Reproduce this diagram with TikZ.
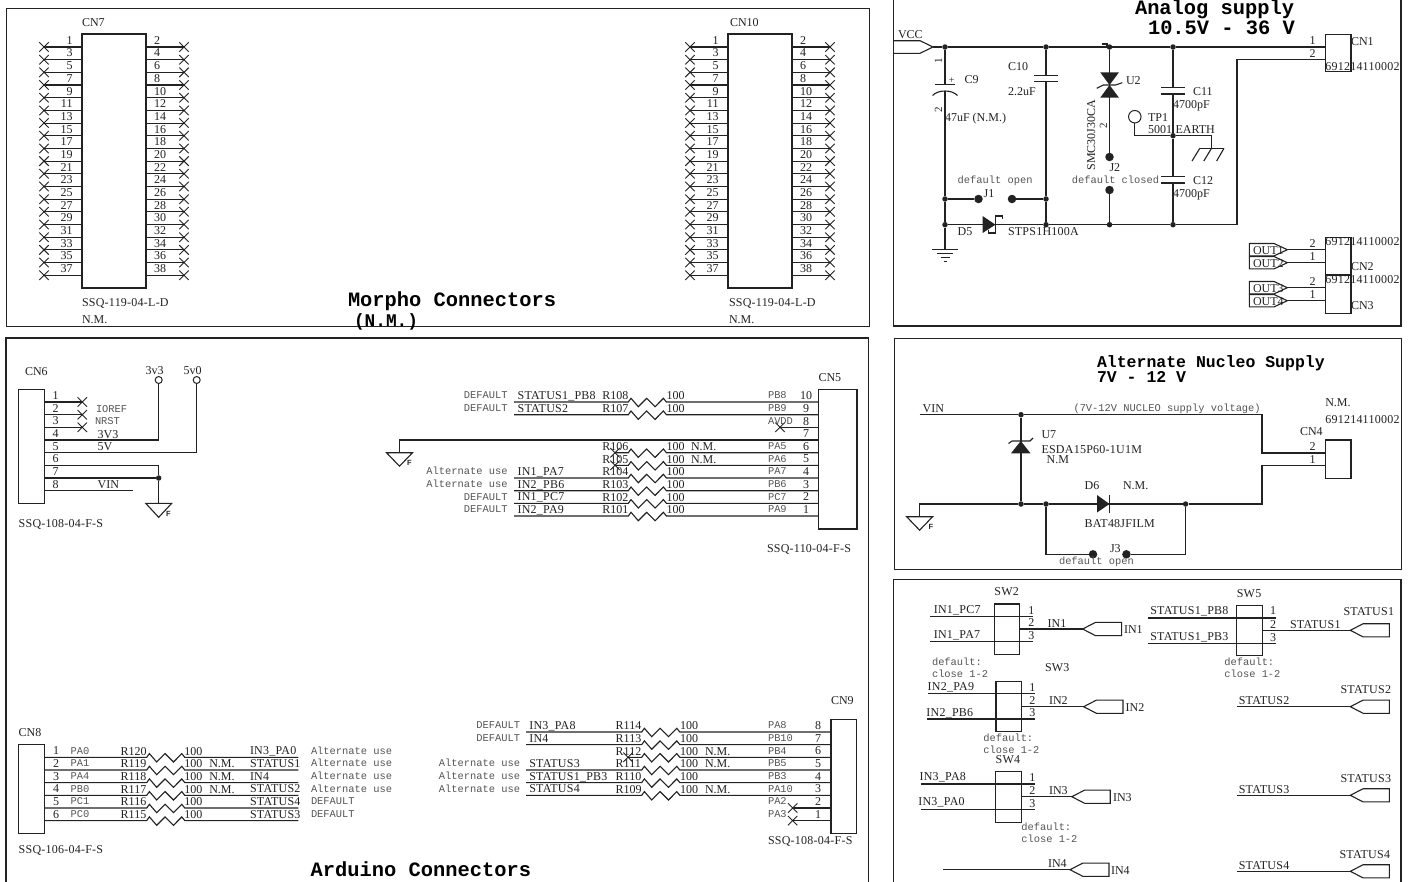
\documentclass[tikz,border=0pt]{standalone}
\usepackage{fontspec}
\setmainfont{Liberation Serif}
\setmonofont{Liberation Mono}
\setsansfont{Liberation Sans}
\newfontfamily\widefont[LetterSpace=2]{Liberation Serif}
\usetikzlibrary{shapes.misc,calc}
\definecolor{ink}{HTML}{222222}
\definecolor{monoink}{HTML}{555555}
\newcounter{tn}
\newcommand{\fsz}[1]{\fontsize{#1}{#1}\selectfont}
\tikzset{
  x=1pt,y=-1pt,
  wire/.style={draw=ink,line width=1.1pt},
  frame/.style={draw=ink,line width=1.2pt},
  txt/.style={inner sep=0pt,outer sep=0pt,text=ink,text height=8pt,text depth=0pt,font=\fsz{12}},
  wtxt/.style={txt,font=\widefont\fsz{12}},
  mono/.style={inner sep=0pt,outer sep=0pt,text=monoink,text height=6.5pt,text depth=0pt,font=\ttfamily\fsz{10.4}},
  ttl/.style={inner sep=0pt,outer sep=0pt,text=black,text height=13pt,text depth=0pt,font=\ttfamily\bfseries\fsz{20.4}},
  smallnum/.style={txt,font=\fsz{11}},
  cbox/.style={draw=ink,line width=1.2pt,inner sep=0pt,outer sep=0pt},
  dot/.style={circle,fill=ink,inner sep=0pt,minimum size=5.5pt},
  bigdot/.style={circle,fill=ink,inner sep=0pt,minimum size=8.5pt},
  ring/.style={circle,draw=ink,line width=1pt,inner sep=0pt,minimum size=7pt},
  bigring/.style={circle,draw=ink,line width=1pt,inner sep=0pt,minimum size=12.5pt},
  xm/.style={cross out,draw=ink,line width=.9pt,inner sep=0pt,minimum size=8.5pt},
  zig/.style={insert path={-- ++(2.7,-3.7) -- ++(7.3,8.4) -- ++(8.4,-8.4) -- ++(8.4,8.4) -- ++(8.3,-8.4) -- ++(3,3.7)}},
}
\newcommand{\Ls}[3]{\stepcounter{tn}\node[txt,anchor=west] (t\arabic{tn}) at (#1,#2) {#3};}
\newcommand{\Lw}[3]{\stepcounter{tn}\node[wtxt,anchor=west] (t\arabic{tn}) at (#1,#2) {#3};}
\newcommand{\Lc}[3]{\stepcounter{tn}\node[txt,anchor=center] (t\arabic{tn}) at (#1,#2) {#3};}
\newcommand{\Lm}[3]{\stepcounter{tn}\node[mono,anchor=west] (t\arabic{tn}) at (#1,#2) {#3};}
\newcommand{\Lr}[3]{\stepcounter{tn}\node[mono,anchor=east] (t\arabic{tn}) at (#1,#2) {#3};}
\newcommand{\Lt}[3]{\stepcounter{tn}\node[ttl,anchor=west] (t\arabic{tn}) at (#1,#2) {#3};}
\newcommand{\Lv}[3]{\stepcounter{tn}\node[smallnum,anchor=center,rotate=90] (t\arabic{tn}) at (#1,#2) {#3};}
% box: name x1 y1 x2 y2
\newcommand{\cbx}[5]{%
  \pgfmathsetmacro{\bw}{(#4)-(#2)}\pgfmathsetmacro{\bh}{(#5)-(#3)}%
  \node[cbox,anchor=north west,minimum width=\bw pt,minimum height=\bh pt] (#1) at (#2,#3) {};}
% port, tip on the left: name tipx y rightdx
\newcommand{\portL}[4]{%
  \coordinate (#1) at (#2,#3);
  \draw[wire] (#1) -- ++(12.8,-6.6) -- ++(#4-12.8,0) -- ++(0,13.2) -- ++(12.8-#4,0) -- cycle;}
% port, tip on the right
\newcommand{\portR}[3]{%
  \coordinate (#1) at (#2,#3);
  \draw[wire] (#1) -- ++(-13.3,-6.2) -- ++(-24.7,0) -- ++(0,12.4) -- ++(24.7,0) -- cycle;}
\newcommand{\morpho}[2]{%
  \pgfmathsetmacro{\mxa}{#2+82}\pgfmathsetmacro{\mxb}{#2+146}
  \cbx{#1}{\mxa}{34}{\mxb}{288}
  \foreach \i in {0,...,18}{
    \pgfmathsetmacro{\yy}{47+12.68*\i}
    \pgfmathtruncatemacro{\nl}{2*\i+1}
    \pgfmathtruncatemacro{\nr}{2*\i+2}
    \pgfmathsetmacro{\xl}{#2+44}
    \pgfmathsetmacro{\xr}{#2+184}
    \pgfmathsetmacro{\xln}{#2+72.5}
    \pgfmathsetmacro{\xrn}{#2+154}
    \node[xm] (#1xl\i) at (\xl,\yy) {};
    \node[xm] (#1xr\i) at (\xr,\yy) {};
    \draw[wire] (#1xl\i.center) -- (#1.west |- #1xl\i.center);
    \draw[wire] (#1xr\i.center) -- (#1.east |- #1xr\i.center);
    \stepcounter{tn}\node[txt,anchor=east] (t\arabic{tn}) at (\xln,\yy-6.7) {\nl};
    \stepcounter{tn}\node[txt,anchor=west] (t\arabic{tn}) at (\xrn,\yy-6.7) {\nr};
  }}
\begin{document}
\begin{tikzpicture}
\clip (0,0) rectangle (1418,881);
\fill[white] (0,0) rectangle (1418,881);
% frames
\node[frame,anchor=north west,inner sep=0pt,minimum width=862.7pt,minimum height=318pt] (fmorpho) at (6,8) {};
\draw[frame] (6,890) -- (6,338) -- (868.7,338) -- (868.7,890);
\draw[frame] (893.8,-5) -- (893.8,326) -- (1401,326) -- (1401,-5);
\node[frame,anchor=north west,inner sep=0pt,minimum width=507.2pt,minimum height=230.5pt] (fnucleo) at (893.8,338) {};
\draw[frame] (893.8,890) -- (893.8,579.7) -- (1401,579.7) -- (1401,890);
% ---------- Morpho
\morpho{cnseven}{0}
\morpho{cnten}{646}
\Ls{82}{22}{CN7}
\Ls{730}{22}{CN10}
\Lw{82}{302}{SSQ-119-04-L-D}
\Lw{729}{302}{SSQ-119-04-L-D}
\Ls{82}{319}{N.M.}
\Ls{729}{319}{N.M.}
\Lt{348}{300}{Morpho Connectors}
\Lt{354}{320}{\fsz{17.8}(N.M.)}
% ---------- Analog supply
\Lt{1135}{8}{Analog supply}
\Lt{1148}{28}{10.5V - 36 V}
\Ls{898}{34}{VCC}
\coordinate (vcctip) at (933,47);
\draw[wire] (894,40.7) -- (920,40.7) -- (vcctip) -- (920,53.3) -- (894,53.3);
\node[dot] (aV) at (945,47) {};
\node[dot] (aC) at (1046,47) {};
\node[dot] (aU) at (1109.5,47) {};
\node[dot] (aE) at (1173,47) {};
\node[dot] (jL) at (945,199) {};
\node[dot] (jR) at (1046,199) {};
\node[dot] (bV) at (945,224.7) {};
\node[dot] (bC) at (1046,224.7) {};
\node[dot] (bU) at (1109.5,224.7) {};
\node[dot] (bE) at (1173,224.7) {};
\node[dot] (eM) at (1173,135.7) {};
\node[bigdot] (jOneA) at (978.5,199) {};
\node[bigdot] (jOneB) at (1012,199) {};
\node[bigdot] (jTwoA) at (1109.5,157) {};
\node[bigdot] (jTwoB) at (1109.5,190) {};
\node[bigring] (tpone) at (1134.8,116.7) {};
\cbx{cnone}{1325.3}{34.3}{1351}{71.7}
\coordinate (cnonep) at (1325.3,47);
\coordinate (cnoneq) at (1325.3,59.3);
\coordinate (retx) at (1237,224.7);
\coordinate (rety) at (1237,59.3);
\draw[wire] (vcctip) -- (aV) -- (aC) -- (aU) -- (aE) -- (cnonep);
\draw[wire] (bV) -- (bC) -- (bU) -- (bE) -- (retx) -- (rety) -- (cnoneq);
% C9 and ground
\coordinate (cnt) at (945,84.7);
\coordinate (cnb) at (945,90.5);
\coordinate (gnda) at (945,249.7);
\draw[wire] (aV) -- (cnt);
\draw[wire] (cnb) -- (jL) -- (bV) -- (gnda);
\draw[wire] ([xshift=-10.5]cnt) -- ([xshift=10]cnt);
\draw[wire] (932.5,95.5) .. controls (938,89.5) and (952,89.5) .. (957.5,95.5);
\draw[wire] ([xshift=-12.7]gnda) -- ([xshift=12.7]gnda);
\draw[wire] ([xshift=-8,yshift=-4]gnda) -- ([xshift=8,yshift=-4]gnda);
\draw[wire] ([xshift=-4.5,yshift=-8]gnda) -- ([xshift=4.5,yshift=-8]gnda);
\draw[wire] ([xshift=-1.5,yshift=-12]gnda) -- ([xshift=1.5,yshift=-12]gnda);
\Lv{938}{60.7}{1}
\Lv{938}{110}{2}
\stepcounter{tn}\node[txt,font=\fsz{10},anchor=center] (t\arabic{tn}) at (951.6,79.7) {+};
\Ls{964.7}{79}{C9}
\Ls{945}{117}{47uF (N.M.)}
% C10
\coordinate (ctt) at (1046,75.3);
\coordinate (ctb) at (1046,81.7);
\draw[wire] (aC) -- (ctt);
\draw[wire] (ctb) -- (jR) -- (bC);
\draw[wire] ([xshift=-11.8]ctt) -- ([xshift=11.8]ctt);
\draw[wire] ([xshift=-11.8]ctb) -- ([xshift=11.8]ctb);
\Ls{1008}{66}{C10}
\Ls{1008}{91}{2.2uF}
% J1
\draw[wire] (jL) -- (jOneA);
\draw[wire] (jOneB) -- (jR);
\Ls{983.6}{193.3}{J1}
\Lm{957.7}{180}{default open}
% D5
\fill[ink] (982.6,216) -- (995.4,224.7) -- (982.6,233) -- cycle;
\draw[wire] (1002.8,219) -- (1002.8,216) -- (995.4,216) -- (995.4,233) -- (988.7,233) -- (988.7,230);
\Ls{957.7}{231}{D5}
\Lw{1008}{231}{STPS1H100A}
% U2
\draw[wire] (aU) -- (jTwoA);
\draw[wire] (jTwoB) -- (bU);
\fill[ink] (1100.2,72.3) -- (1119,72.3) -- (1109.5,85) -- cycle;
\fill[ink] (1100.2,97.7) -- (1119,97.7) -- (1109.5,85) -- cycle;
\draw[wire] (1096.7,88.3) -- (1103.3,85) -- (1115.7,85) -- (1122.3,82.7);
\draw[wire] (1101.7,44) -- (1107,44) -- (1107,46);
\Lv{1103}{126}{2}
\stepcounter{tn}\node[txt,anchor=center,rotate=90] (t\arabic{tn}) at (1091,135) {SMC30J30CA};
\Ls{1126}{80}{U2}
\Ls{1109.5}{167.7}{J2}
\Lm{1071.8}{180}{default closed}
% C11, C12, TP1, earth
\coordinate (cet) at (1173,87.7);
\coordinate (ceb) at (1173,94);
\coordinate (cft) at (1173,176.7);
\coordinate (cfb) at (1173,183);
\draw[wire] (aE) -- (cet);
\draw[wire] (ceb) -- (eM) -- (cft);
\draw[wire] (cfb) -- (bE);
\foreach \p in {cet,ceb,cft,cfb}{\draw[wire] ([xshift=-12]\p) -- ([xshift=12]\p);}
\Ls{1193}{91}{C11}
\Ls{1173}{104.3}{4700pF}
\Ls{1193}{180}{C12}
\Ls{1173}{193.3}{4700pF}
\Ls{1148}{117}{TP1}
\Ls{1148}{129.3}{5001}
\Ls{1175.5}{129.3}{EARTH}
\coordinate (earth) at (1211.5,148.3);
\draw[wire] (tpone) |- (eM);
\draw[wire] (eM) -| (earth);
\draw[wire] (1199.8,148.3) -- (1224,148.3);
\draw[wire] (1199.8,148.3) -- (1192,161);
\draw[wire] (1211.5,148.3) -- (1203.8,161);
\draw[wire] (1224,148.3) -- (1216.6,161);
\Ls{1351}{41}{CN1}
\Lw{1325.3}{66.3}{691214110002}
\Lc{1312.5}{40}{1}
\Lc{1312.5}{53}{2}
% CN2, CN3 and outputs
\cbx{cntwo}{1325.3}{237.3}{1351}{275}
\cbx{cnthree}{1325.3}{275}{1351}{313.3}
\portR{oa}{1287.3}{249.7}
\portR{ob}{1287.3}{262.7}
\portR{oc}{1287.3}{287.7}
\portR{od}{1287.3}{300.7}
\draw[wire] (oa) -- (cntwo.west |- oa);
\draw[wire] (ob) -- (cntwo.west |- ob);
\draw[wire] (oc) -- (cnthree.west |- oc);
\draw[wire] (od) -- (cnthree.west |- od);
\Ls{1253}{250}{OUT1}
\Ls{1253}{263.3}{OUT2}
\Ls{1253}{288}{OUT3}
\Ls{1253}{301}{OUT4}
\Lc{1312.5}{243}{2}
\Lc{1312.5}{256}{1}
\Lc{1312.5}{281}{2}
\Lc{1312.5}{294}{1}
\Lw{1325.3}{241.7}{691214110002}
\Lw{1325.3}{279.3}{691214110002}
\Ls{1351}{266.3}{CN2}
\Ls{1351}{305}{CN3}
% ---------- CN6
\cbx{cnsix}{18.7}{389.3}{44.3}{503.7}
\Ls{25}{371.3}{CN6}
\Lw{18.7}{523.3}{SSQ-108-04-F-S}
\foreach \yy/\n in {402/1,414.7/2,427.3/3,440/4,452.7/5,465.3/6,478/7,490.7/8}{
  \Lc{55.7}{\yy-6.7}{\n}
}
\foreach \yy/\n in {402/a,414.7/b,427.3/c}{
  \node[xm] (sx\n) at (82.3,\yy) {};
  \draw[wire] (sx\n.center) -- (cnsix.east |- sx\n.center);
}
\node[ring] (rthree) at (158.7,380) {};
\node[ring] (rfive) at (196.7,380) {};
\coordinate (pfour) at (44.3,440);
\coordinate (pfive) at (44.3,452.7);
\coordinate (psix) at (44.3,465.3);
\coordinate (pseven) at (44.3,478);
\coordinate (peight) at (44.3,490.7);
\coordinate (vinend) at (133.3,490.7);
\node[dot] (gj) at (158.7,478) {};
\coordinate (gsix) at (158.7,503.3);
\draw[wire] (pfour) -| (rthree);
\draw[wire] (pfive) -| (rfive);
\draw[wire] (psix) -| (gj);
\draw[wire] (pseven) -- (gj) -- (gsix);
\draw[wire] (peight) -- (vinend);
\draw[wire] ([xshift=-13]gsix) -- ([xshift=13]gsix) -- ([yshift=-14]gsix) -- cycle;
\stepcounter{tn}\node[inner sep=0pt,font=\sffamily\bfseries\fsz{7.5},anchor=center,text=ink] (t\arabic{tn}) at (168.3,514) {F};
\stepcounter{tn}\node[txt,anchor=center] (t\arabic{tn}) at (154.7,370.7) {3v3};
\stepcounter{tn}\node[txt,anchor=center] (t\arabic{tn}) at (192.7,370.7) {5v0};
\Lm{96}{409}{IOREF}
\Lm{95}{421}{NRST}
\Ls{97.7}{434.7}{3V3}
\Ls{97.7}{446.7}{5V}
\Ls{97.7}{484}{VIN}
% ---------- CN5
\cbx{cnfive}{818.5}{389.3}{857}{529}
\Ls{818.5}{377.3}{CN5}
\Lw{767}{548.3}{SSQ-110-04-F-S}
\foreach \yy/\rr/\vv/\wl/\ml/\pn/\num in {
  402/R108/100/STATUS1\_PB8/DEFAULT/PB8/10,
  414.7/R107/100/STATUS2/DEFAULT/PB9/9,
  478/R104/100/IN1\_PA7/Alternate use/PA7/4,
  490.7/R103/100/IN2\_PB6/Alternate use/PB6/3,
  503.3/R102/100/IN1\_PC7/DEFAULT/PC7/2,
  516/R101/100/IN2\_PA9/DEFAULT/PA9/1}{
  \coordinate (w\num) at (514,\yy);
  \coordinate (z\num) at (628.3,\yy);
  \draw[wire] (w\num) -- (z\num) [zig] -- (cnfive.west |- z\num);
  \Ls{602.3}{\yy-6.3}{\rr}
  \Ls{666.7}{\yy-6.3}{\vv}
  \Lw{517.6}{\yy-6.5}{\wl}
  \Lr{507.5}{\yy-6.5}{\ml}
  \Lm{768}{\yy-6.5}{\pn}
  \Lc{806}{\yy-6.5}{\num}
}
\foreach \yy/\rr/\pn/\num in {452.7/R106/PA5/6,465.3/R105/PA6/5}{
  \node[xm] (xr\num) at (615,\yy) {};
  \coordinate (z\num) at (628.3,\yy);
  \draw[wire] (xr\num.center) -- (z\num) [zig] -- (cnfive.west |- z\num);
  \Ls{602.3}{\yy-6.3}{\rr}
  \Ls{666.7}{\yy-6.3}{100}
  \Ls{691}{\yy-6.3}{N.M.}
  \Lm{768}{\yy-6.5}{\pn}
  \Lc{806}{\yy-6.5}{\num}
}
\node[xm] (xavdd) at (780,427.3) {};
\draw[wire] (xavdd.center) -- (cnfive.west |- xavdd.center);
\Lm{768}{421}{AVDD}
\Lc{806}{421}{8}
\Lc{806}{433.5}{7}
\coordinate (gf) at (399.5,452.7);
\coordinate (gc) at (399.5,440);
\draw[wire] (cnfive.west |- gc) -- (gc) -- (gf);
\draw[wire] ([xshift=-13]gf) -- ([xshift=13]gf) -- ([yshift=-13.5]gf) -- cycle;
\stepcounter{tn}\node[inner sep=0pt,font=\sffamily\bfseries\fsz{7.5},anchor=center,text=ink] (t\arabic{tn}) at (409.5,463) {F};
% ---------- CN8
\cbx{cneight}{18.7}{744.3}{44.3}{833.3}
\Ls{18.7}{732.3}{CN8}
\Lw{18.7}{849}{SSQ-106-04-F-S}
\foreach \yy/\n/\pn/\rr/\nm/\wl/\ml in {
  757.3/1/PA0/R120//IN3\_PA0/Alternate use,
  770/2/PA1/R119/N.M./STATUS1/Alternate use,
  782.6/3/PA4/R118/N.M./IN4/Alternate use,
  795.3/4/PB0/R117/N.M./STATUS2/Alternate use,
  808/5/PC1/R116//STATUS4/DEFAULT,
  820.6/6/PC0/R115//STATUS3/DEFAULT}{
  \coordinate (y\n) at (146.7,\yy);
  \coordinate (v\n) at (298.3,\yy);
  \draw[wire] (cneight.east |- y\n) -- (y\n) [zig] -- (v\n);
  \Lc{56}{\yy-6.5}{\n}
  \Lm{70.7}{\yy-6.5}{\pn}
  \Ls{120.7}{\yy-6.3}{\rr}
  \Ls{184.3}{\yy-6.3}{100}
  \Ls{209.3}{\yy-6.3}{\nm}
  \Lw{250}{\yy-6.5}{\wl}
  \Lm{311}{\yy-6.5}{\ml}
}
\Lt{310.7}{870}{Arduino Connectors}
% ---------- CN9
\cbx{cnnine}{831}{719.3}{856.5}{833.3}
\Ls{831}{700}{CN9}
\Lw{768}{840.7}{SSQ-108-04-F-S}
\foreach \yy/\rr/\nm/\wl/\ml/\pn/\num in {
  732/R114//IN3\_PA8/DEFAULT/PA8/8,
  744.6/R113//IN4/DEFAULT/PB10/7,
  770/R111/N.M./STATUS3/Alternate use/PB5/5,
  782.6/R110//STATUS1\_PB3/Alternate use/PB3/4,
  795.3/R109/N.M./STATUS4/Alternate use/PA10/3}{
  \coordinate (q\num) at (526,\yy);
  \coordinate (r\num) at (641.7,\yy);
  \draw[wire] (q\num) -- (r\num) [zig] -- (cnnine.west |- r\num);
  \Ls{615.7}{\yy-6.3}{\rr}
  \Ls{680}{\yy-6.3}{100}
  \Ls{705}{\yy-6.3}{\nm}
  \Lw{529.3}{\yy-6.5}{\wl}
  \Lr{520}{\yy-6.5}{\ml}
  \Lm{768}{\yy-6.5}{\pn}
  \Lc{818}{\yy-6.5}{\num}
}
\node[xm] (xrtw) at (628,757.3) {};
\coordinate (rsix) at (641.7,757.3);
\draw[wire] (xrtw.center) -- (rsix) [zig] -- (cnnine.west |- rsix);
\Ls{615.7}{751}{R112}
\Ls{680}{751}{100}
\Ls{705}{751}{N.M.}
\Lm{768}{750.8}{PB4}
\Lc{818}{750.8}{6}
\node[xm] (xpatwo) at (792.7,808) {};
\node[xm] (xpathree) at (792.7,820.6) {};
\draw[wire] (xpatwo.center) -- (cnnine.west |- xpatwo.center);
\draw[wire] (xpathree.center) -- (cnnine.west |- xpathree.center);
\Lm{768}{801.5}{PA2}
\Lc{818}{801.5}{2}
\Lm{768}{814}{PA3}
\Lc{818}{814}{1}
% ---------- Alternate Nucleo supply
\Lt{1097}{360.7}{\fsz{16.5}Alternate Nucleo Supply}
\Lt{1097}{376}{\fsz{16.5}7V - 12 V}
\cbx{cnfour}{1325.3}{440}{1351}{478.3}
\coordinate (vinl) at (919.6,414.7);
\coordinate (vinr) at (1262,414.7);
\coordinate (vind) at (1262,453);
\coordinate (rtnl) at (919.6,504);
\coordinate (rtnr) at (1262,504);
\coordinate (rtnu) at (1262,465.7);
\coordinate (ng) at (919.6,516.7);
\node[dot] (nu) at (1021,414.7) {};
\node[dot] (nd) at (1021,504) {};
\node[dot] (nj) at (1046,504) {};
\node[dot] (nk) at (1185.6,504) {};
\node[bigdot] (jtha) at (1093,554.3) {};
\node[bigdot] (jthb) at (1126.4,554.3) {};
\draw[wire] (vinl) -- (nu) -- (vinr) -- (vind) -- (cnfour.west |- vind);
\draw[wire] (ng) -- (rtnl) -- (nd) -- (nj) -- (nk) -- (rtnr) -- (rtnu) -- (cnfour.west |- rtnu);
\draw[wire] (nu) -- (nd);
\draw[wire] (nj) |- (jtha);
\draw[wire] (jthb) -| (nk);
\draw[wire] ([xshift=-13]ng) -- ([xshift=13]ng) -- ([yshift=-13.5]ng) -- cycle;
\stepcounter{tn}\node[inner sep=0pt,font=\sffamily\bfseries\fsz{7.5},anchor=center,text=ink] (t\arabic{tn}) at (931,527) {F};
\fill[ink] (1011,453.3) -- (1030.5,453.3) -- (1020.8,441) -- cycle;
\draw[wire] (1008.5,443.5) -- (1012,441) -- (1030,441) -- (1033,438);
\fill[ink] (1097,495) -- (1109.5,504) -- (1097,512.5) -- cycle;
\draw[wire] (1109.5,495) -- (1109.5,512.5);
\Ls{922.7}{408.3}{VIN}
\Lm{1073.5}{408.7}{(7V-12V NUCLEO supply voltage)}
\Ls{1041.5}{434.3}{U7}
\Lw{1041.5}{449.3}{ESDA15P60-1U1M}
\Ls{1046.6}{459.3}{N.M}
\Ls{1084.6}{485.3}{D6}
\Ls{1123}{485.3}{N.M.}
\Lw{1084.6}{523.3}{BAT48JFILM}
\Ls{1110}{548.3}{J3}
\Lm{1059}{561}{default open}
\Ls{1325.3}{402.3}{N.M.}
\Lw{1325.3}{419.7}{691214110002}
\Ls{1300}{431.3}{CN4}
\Lc{1312.5}{446.5}{2}
\Lc{1312.5}{459}{1}
% ---------- Switches
\cbx{swtwo}{994.4}{604}{1019.6}{654.3}
\cbx{swthree}{996}{681.3}{1021.3}{731.7}
\cbx{swfour}{995.7}{771.7}{1021.3}{822.3}
\cbx{swfive}{1236.8}{605.3}{1262.4}{655.7}
\Lw{994.4}{591}{SW2}
\Lw{1045}{667.3}{SW3}
\Lw{995.7}{759.3}{SW4}
\Lw{1236.8}{593}{SW5}
\portL{pin1}{1082.6}{629}{39}
\portL{pin2}{1083.6}{706.7}{39.4}
\portL{pin3}{1071.8}{796.7}{38.4}
\portL{pin4}{1070}{869.7}{39}
\portL{pst1}{1350.3}{630.3}{39}
\portL{pst2}{1350.3}{706.7}{39}
\portL{pst3}{1350.3}{795.3}{39}
\portL{pst4}{1350.3}{871.3}{39}
\draw[wire] (swtwo.east |- pin1) -- (pin1);
\draw[wire] (swthree.east |- pin2) -- (pin2);
\draw[wire] (swfour.east |- pin3) -- (pin3);
\draw[wire] (swfive.east |- pst1) -- (pst1);
\coordinate (in4l) at (943,869.7);
\draw[wire] (in4l) -- (pin4);
\coordinate (st2l) at (1236.8,706.7);
\coordinate (st3l) at (1236.8,795.3);
\coordinate (st4l) at (1236.8,871.3);
\draw[wire] (st2l) -- (pst2);
\draw[wire] (st3l) -- (pst3);
\draw[wire] (st4l) -- (pst4);
% through wires
\draw[wire] (930.4,616.7) -- (1033,616.7);
\draw[wire] (930.4,641.7) -- (1033,641.7);
\draw[wire] (928,693.7) -- (1034.8,693.7);
\draw[wire] (927,719) -- (1034.8,719);
\draw[wire] (921,784) -- (1034.8,784);
\draw[wire] (921,809.3) -- (1034.8,809.3);
\draw[wire] (1147.6,618) -- (1275.5,618);
\draw[wire] (1147.6,643.3) -- (1275.5,643.3);
% switch labels
\Lw{933.8}{609.3}{IN1\_PC7}
\Lw{933.8}{634.3}{IN1\_PA7}
\Ls{1047.6}{623.3}{IN1}
\Ls{1124}{629}{IN1}
\Lc{1031.4}{610}{1}\Lc{1031.4}{622.3}{2}\Lc{1031.4}{635}{3}
\Lm{932}{662.3}{default:}
\Lm{932}{674}{close 1-2}
\Lw{927.7}{686.3}{IN2\_PA9}
\Lw{926.4}{712.3}{IN2\_PB6}
\Ls{1049}{700.3}{IN2}
\Ls{1125.7}{707}{IN2}
\Lc{1032.4}{687}{1}\Lc{1032.4}{700}{2}\Lc{1032.4}{712.3}{3}
\Lm{983.3}{738.3}{default:}
\Lm{983.3}{750}{close 1-2}
\Lw{919.6}{776.3}{IN3\_PA8}
\Lw{918.3}{801.7}{IN3\_PA0}
\Ls{1049}{790.7}{IN3}
\Ls{1113}{797}{IN3}
\Lc{1032.4}{777.3}{1}\Lc{1032.4}{790}{2}\Lc{1032.4}{803}{3}
\Lm{1021.3}{827}{default:}
\Lm{1021.3}{839}{close 1-2}
\Ls{1048}{863.7}{IN4}
\Ls{1111}{870}{IN4}
\Lw{1150.3}{610.3}{STATUS1\_PB8}
\Lw{1150.3}{636.3}{STATUS1\_PB3}
\Lw{1290}{624.3}{STATUS1}
\Lw{1343.5}{611.7}{STATUS1}
\Lc{1273}{610.7}{1}\Lc{1273}{624.3}{2}\Lc{1273}{637}{3}
\Lm{1224.3}{662.3}{default:}
\Lm{1224.3}{674}{close 1-2}
\Lw{1238.8}{700.3}{STATUS2}
\Lw{1340.5}{689.3}{STATUS2}
\Lw{1238.8}{789}{STATUS3}
\Lw{1340.5}{778}{STATUS3}
\Lw{1238.8}{865.3}{STATUS4}
\Lw{1339.5}{854}{STATUS4}
\end{tikzpicture}
\end{document}
